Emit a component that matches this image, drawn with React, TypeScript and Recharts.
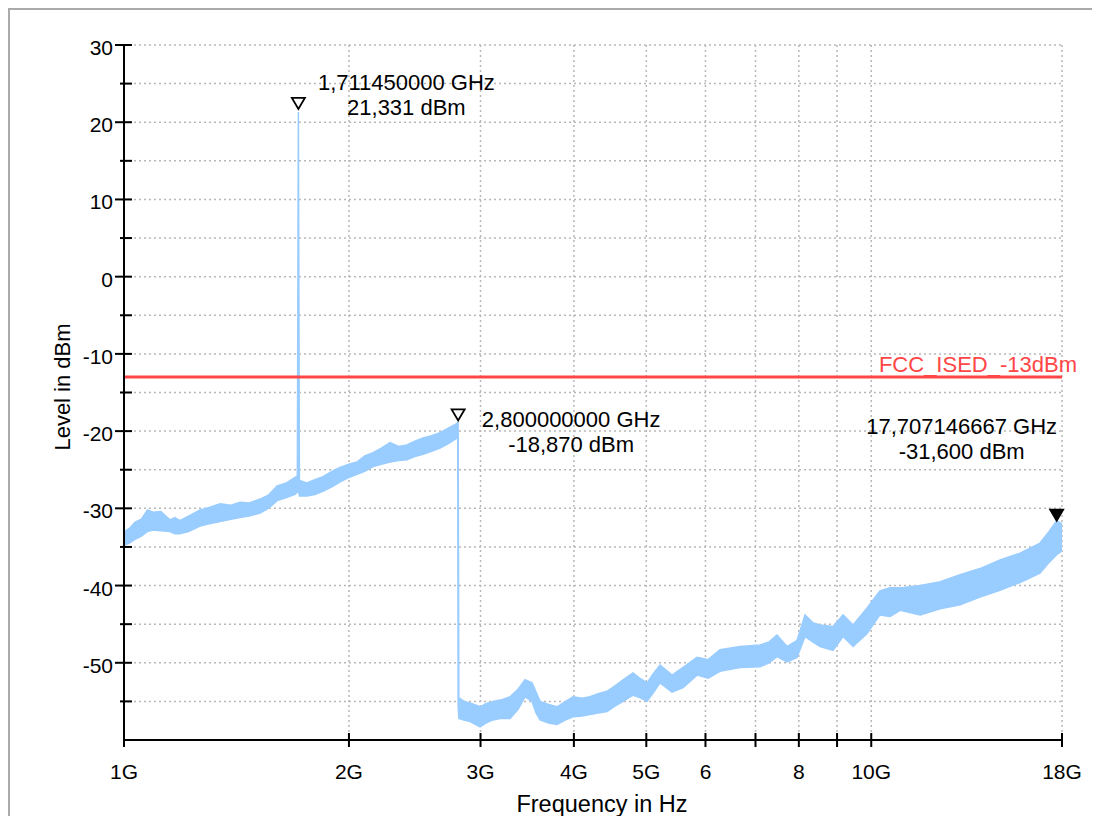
import React from 'react';
import { ComposedChart, Area, XAxis, YAxis, CartesianGrid, ReferenceLine, ReferenceDot } from 'recharts';

const freqGHz = [
  1.0, 1.017, 1.035, 1.055, 1.075, 1.094, 1.12, 1.152, 1.17, 1.188,
  1.22, 1.264, 1.3, 1.345, 1.39, 1.43, 1.47, 1.521, 1.56, 1.603,
  1.65, 1.694, 1.706, 1.71145, 1.717, 1.758, 1.8, 1.846, 1.9, 1.945,
  2.0, 2.05, 2.1, 2.154, 2.21, 2.27, 2.33, 2.391, 2.45, 2.513,
  2.58, 2.648, 2.72, 2.791, 2.797, 2.8, 2.806, 2.85, 2.905, 2.996,
  3.05, 3.118, 3.2, 3.286, 3.37, 3.441, 3.516, 3.56, 3.604, 3.7,
  3.798, 3.9, 3.99, 4.1, 4.204, 4.31, 4.43, 4.54, 4.654, 4.8,
  4.9, 5.012, 5.1, 5.216, 5.413, 5.6, 5.847, 6.05, 6.275, 6.675,
  7.1, 7.3, 7.479, 7.714, 7.956, 8.154, 8.35, 8.54, 8.889, 9.169,
  9.456, 9.872, 10.27, 10.6, 10.93, 11.63, 12.37, 13.15, 13.98, 14.87,
  15.82, 16.82, 17.3, 17.707, 18.0,
];

const levelLow = [
  -34.8, -34.5, -34.0, -33.6, -33.0, -32.8, -32.9, -33.0, -33.3, -33.3,
  -33.0, -32.3, -32.0, -31.7, -31.4, -31.2, -31.0, -30.6, -30.0, -29.0,
  -28.6, -28.2, -27.9, -27.6, -28.4, -28.4, -28.2, -27.8, -27.2, -26.6,
  -26.0, -25.6, -25.2, -24.6, -24.3, -24.0, -23.8, -23.7, -23.3, -23.0,
  -22.6, -22.2, -21.6, -20.9, -20.6, -55.5, -57.2, -57.4, -57.6, -58.3,
  -57.8, -57.4, -57.2, -57.2, -56.0, -54.4, -55.0, -56.5, -57.4, -57.8,
  -58.0, -57.4, -57.0, -56.9, -56.7, -56.5, -56.3, -55.6, -55.0, -54.2,
  -54.5, -55.0, -54.0, -52.6, -53.8, -53.2, -51.6, -52.0, -51.1, -50.6,
  -50.5, -50.0, -49.2, -49.9, -49.3, -46.6, -47.3, -47.9, -48.4, -46.6,
  -47.9, -46.2, -43.8, -44.0, -43.2, -43.8, -43.0, -42.5, -41.5, -40.6,
  -39.6, -38.4, -37.0, -36.0, -35.5,
];

const levelHigh = [
  -33.0, -32.6, -31.8, -31.4, -30.2, -30.5, -30.4, -31.5, -31.2, -31.6,
  -31.0, -30.2, -29.9, -29.4, -29.6, -29.2, -29.3, -28.8, -28.3, -27.1,
  -26.7, -26.0, -25.8, 21.331, -26.4, -26.7, -26.3, -25.9, -25.2, -24.7,
  -24.3, -24.0, -23.2, -22.8, -22.2, -21.5, -22.0, -21.8, -21.3, -20.9,
  -20.6, -20.2, -19.6, -19.0, -18.87, -18.87, -54.5, -55.0, -55.2, -55.7,
  -55.3, -55.0, -54.8, -54.4, -53.4, -52.2, -52.6, -53.8, -55.0, -55.4,
  -55.7, -55.0, -54.4, -54.6, -54.4, -54.0, -53.7, -53.0, -52.2, -51.3,
  -52.0, -52.6, -51.5, -50.3, -51.6, -50.6, -49.3, -49.6, -48.3, -47.9,
  -47.7, -47.3, -46.4, -47.9, -47.1, -43.8, -44.8, -45.1, -45.3, -43.8,
  -45.1, -42.9, -40.7, -40.3, -40.3, -40.0, -39.5, -38.6, -37.8, -36.7,
  -35.8, -34.5, -33.0, -31.6, -32.0,
];

const xTicks = [1, 2, 3, 4, 5, 6, 7, 8, 9, 10, 18];
const xTickLabels = ['1G', '2G', '3G', '4G', '5G', '6', '', '8', '', '10G', '18G'];
const yTicks = [-55, -50, -45, -40, -35, -30, -25, -20, -15, -10, -5, 0, 5, 10, 15, 20, 25, 30];

const limitLevel = -13;
const limitName = 'FCC_ISED_-13dBm';

const markerFreq = [1.71145, 2.8, 17.7071466667];
const markerLevel = [21.331, -18.87, -31.6];
const markerFreqText = ['1,711450000 GHz', '2,800000000 GHz', '17,707146667 GHz'];
const markerLevelText = ['21,331 dBm', '-18,870 dBm', '-31,600 dBm'];

// styling for the marker glyphs / readouts
const markerStyle = [
  { filled: false, tip: -3, dx: 108, dy: -22 },
  { filled: false, tip: -2, dx: 113, dy: 5 },
  { filled: true, tip: 0, dx: -95, dy: -87 },
];

const FONT = "'Liberation Sans', Arial, Helvetica, sans-serif";
const TRACE = '#99ccff';
const LIMIT = '#ff4646';

const spectrum = freqGHz.map((f, i) => ({ f, band: [levelLow[i], levelHigh[i]] }));

const XTick = (props: any) => {
  const { x, y, payload } = props;
  const idx = xTicks.indexOf(payload.value);
  return (
    <g>
      <line x1={x} x2={x} y1={y - 7} y2={y + 7} stroke="#000" strokeWidth={2} />
      <text x={x} y={y + 39} textAnchor="middle" fontFamily={FONT} fontSize={21} fill="#000">
        {xTickLabels[idx]}
      </text>
    </g>
  );
};

const YTick = (props: any) => {
  const { x, y, payload } = props;
  const major = payload.value % 10 === 0;
  return (
    <g>
      <line x1={major ? x - 9 : x - 4} x2={x + 8} y1={y} y2={y} stroke="#000" strokeWidth={2} />
      {major && (
        <text x={x - 11} y={y + 10} textAnchor="end" fontFamily={FONT} fontSize={21} fill="#000">
          {payload.value}
        </text>
      )}
    </g>
  );
};

const makeMarker = (i: number) => (props: any) => {
  const { cx, cy } = props;
  const s = markerStyle[i];
  const tip = cy + s.tip;
  return (
    <g>
      <polygon
        points={`${cx - 6.5},${tip - 11} ${cx + 6.5},${tip - 11} ${cx},${tip}`}
        fill={s.filled ? '#000' : '#fff'}
        stroke="#000"
        strokeWidth={1.8}
      />
      <text x={cx + s.dx} y={cy + s.dy} textAnchor="middle" fontFamily={FONT} fontSize={22} fill="#000">
        {markerFreqText[i]}
      </text>
      <text x={cx + s.dx} y={cy + s.dy + 25} textAnchor="middle" fontFamily={FONT} fontSize={22} fill="#000">
        {markerLevelText[i]}
      </text>
    </g>
  );
};

const App: React.FC = () => {
  return (
    <div style={{ position: 'relative', width: 1084, height: 808 }}>
      <style>{'html { overflow: hidden; }'}</style>
      <div
        style={{
          position: 'absolute',
          left: 0,
          top: 0,
          width: 1092,
          height: 820,
          borderLeft: '2px solid #aaaaaa',
          borderTop: '2px solid #aaaaaa',
        }}
      />
      <div style={{ position: 'absolute', left: 0, top: 0 }}>
        <ComposedChart
          width={1084}
          height={808}
          data={spectrum}
          margin={{ top: 37, right: 30, left: 0, bottom: 16 }}
        >
          <CartesianGrid stroke="#b8b8b8" strokeWidth={1.5} strokeDasharray="2 3" />
          <XAxis
            dataKey="f"
            type="number"
            scale="log"
            domain={[1, 18]}
            ticks={xTicks}
            allowDataOverflow
            height={60}
            tickSize={0}
            tickMargin={0}
            tickLine={false}
            interval={0}
            axisLine={{ stroke: '#000', strokeWidth: 2 }}
            tick={<XTick />}
            label={(p: any) => {
              const vb = p.viewBox;
              return (
                <text x={vb.x + vb.width / 2 + 9} y={vb.y + 72} textAnchor="middle" fontFamily={FONT} fontSize={23.5} fill="#000">
                  Frequency in Hz
                </text>
              );
            }}
          />
          <YAxis
            type="number"
            domain={[-60, 30]}
            ticks={yTicks}
            allowDataOverflow
            width={116}
            tickSize={0}
            tickMargin={0}
            tickLine={false}
            interval={0}
            axisLine={{ stroke: '#000', strokeWidth: 2 }}
            tick={<YTick />}
            label={() => (
              <text x={62} y={379} transform="rotate(-90 62 379)" textAnchor="middle" fontFamily={FONT} fontSize={22} fill="#000">
                Level in dBm
              </text>
            )}
          />
          <Area
            dataKey="band"
            type="linear"
            fill={TRACE}
            fillOpacity={1}
            stroke={TRACE}
            strokeWidth={1.5}
            dot={false}
            activeDot={false}
            isAnimationActive={false}
          />
          <ReferenceLine
            y={limitLevel}
            stroke={LIMIT}
            strokeWidth={3}
            label={(p: any) => {
              const vb = p.viewBox;
              return (
                <text x={vb.x + vb.width + 15} y={vb.y - 5} textAnchor="end" fontFamily={FONT} fontSize={22} fill={LIMIT}>
                  {limitName}
                </text>
              );
            }}
          />
          {markerFreq.map((f, i) => (
            <ReferenceDot key={i} x={f} y={markerLevel[i]} r={0} shape={makeMarker(i)} />
          ))}
        </ComposedChart>
      </div>
    </div>
  );
};

export default App;
